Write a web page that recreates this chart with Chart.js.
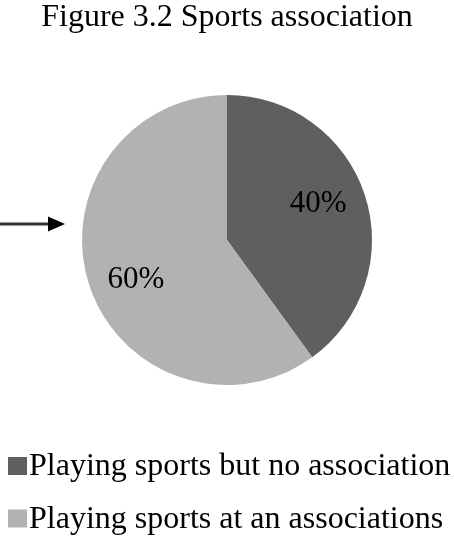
<!DOCTYPE html>
<html>
<head>
<meta charset="utf-8">
<script src="https://cdn.jsdelivr.net/npm/chart.js@4"></script>
<style>
  html, body { margin: 0; padding: 0; background: #fff; }
  #wrap { width: 454px; height: 537px; }
</style>
</head>
<body>
<div id="wrap"><canvas id="grafico"></canvas></div>
<script>
// ===== Dados =====
const categorias = ["Playing sports but no association", "Playing sports at an associations"];
const valores = [40, 60];
const cores = ["#5f5f5f", "#b2b2b2"];
const titulo = "Figure 3.2 Sports association";

const FONTE = "'Liberation Serif', 'Times New Roman', serif";

// rótulos de porcentagem dentro das fatias + seta + legenda
const extras = {
  id: "extras",
  afterDatasetsDraw(chart) {
    const ctx = chart.ctx;
    const total = valores.reduce((a, b) => a + b, 0);
    ctx.save();
    ctx.font = "31px " + FONTE;
    ctx.fillStyle = "#000";
    ctx.textAlign = "center";
    ctx.textBaseline = "middle";
    chart.getDatasetMeta(0).data.forEach((arc, i) => {
      const p = arc.getProps(["x", "y", "startAngle", "endAngle", "outerRadius"], true);
      const meio = (p.startAngle + p.endAngle) / 2 - 0.078; // leve giro como no original
      const r = p.outerRadius * 0.68;
      const txt = Math.round(valores[i] / total * 100) + "%";
      ctx.fillText(txt, p.x + Math.cos(meio) * r, p.y + Math.sin(meio) * r + 2);
    });
    ctx.restore();
  },
  afterDraw(chart) {
    const ctx = chart.ctx;
    ctx.save();
    // seta à esquerda
    ctx.strokeStyle = "#333";
    ctx.lineWidth = 3;
    ctx.beginPath(); ctx.moveTo(0, 224); ctx.lineTo(50, 224); ctx.stroke();
    ctx.fillStyle = "#000";
    ctx.beginPath(); ctx.moveTo(48, 216.5); ctx.lineTo(65, 224); ctx.lineTo(48, 231.5); ctx.closePath(); ctx.fill();
    // legenda
    ctx.font = "32px " + FONTE;
    ctx.textAlign = "left";
    ctx.textBaseline = "alphabetic";
    categorias.forEach((c, i) => {
      const base = 475 + i * 52.5;
      ctx.fillStyle = cores[i];
      ctx.fillRect(8, base - 18, 19, 18);
      ctx.fillStyle = "#000";
      ctx.fillText(c, 29, base);
    });
    ctx.restore();
  }
};

new Chart(document.getElementById("grafico"), {
  type: "pie",
  data: {
    labels: categorias,
    datasets: [{ data: valores, backgroundColor: cores, borderWidth: 0, radius: 145 }]
  },
  options: {
    responsive: true,
    maintainAspectRatio: false,
    animation: false,
    layout: { padding: { bottom: 113 } },
    plugins: {
      legend: { display: false },
      tooltip: { enabled: false },
      title: {
        display: true, text: titulo, color: "#000",
        font: { family: FONTE, size: 32, weight: "normal", lineHeight: 1 },
        padding: { top: 2, bottom: 22 }
      }
    }
  },
  plugins: [extras]
});
</script>
</body>
</html>
